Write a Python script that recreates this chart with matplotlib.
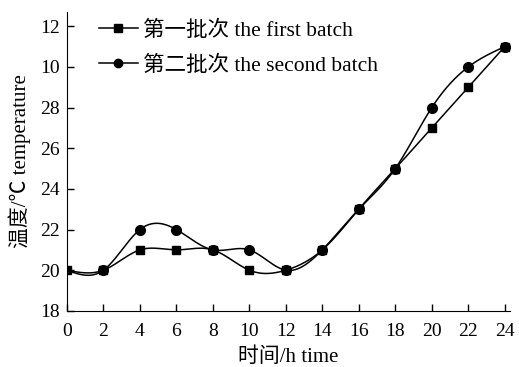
import numpy as np
import matplotlib
matplotlib.use("Agg")
import matplotlib.pyplot as plt

plt.rcParams['font.family'] = ['Liberation Serif', 'Noto Sans CJK SC']

hours = [0, 2, 4, 6, 8, 10, 12, 14, 16, 18, 20, 22, 24]
batch1 = [20, 20, 21, 21, 21, 20, 20, 21, 23, 25, 27, 29, 31]
batch2 = [20, 20, 22, 22, 21, 21, 20, 21, 23, 25, 28, 30, 31]
y_ticks = [18, 20, 22, 24, 26, 28, 30, 32]
y_tick_labels = ["18", "20", "22", "24", "26", "28", "10", "12"]


def smooth(x, y, n=400):
    # natural cubic spline through the points
    x = np.asarray(x, float)
    y = np.asarray(y, float)
    k = len(x)
    h = np.diff(x)
    A = np.zeros((k, k))
    b = np.zeros(k)
    A[0, 0] = A[-1, -1] = 1
    for i in range(1, k - 1):
        A[i, i - 1] = h[i - 1]
        A[i, i] = 2 * (h[i - 1] + h[i])
        A[i, i + 1] = h[i]
        b[i] = 3 * ((y[i + 1] - y[i]) / h[i] - (y[i] - y[i - 1]) / h[i - 1])
    c = np.linalg.solve(A, b)
    xs = np.linspace(x[0], x[-1], n)
    idx = np.clip(np.searchsorted(x, xs) - 1, 0, k - 2)
    dx = xs - x[idx]
    hi = h[idx]
    bb = (y[idx + 1] - y[idx]) / hi - hi * (2 * c[idx] + c[idx + 1]) / 3
    dd = (c[idx + 1] - c[idx]) / (3 * hi)
    ys = y[idx] + bb * dx + c[idx] * dx ** 2 + dd * dx ** 3
    return xs, ys


fig = plt.figure(figsize=(5.19, 3.67), dpi=100)
ax = fig.add_axes([0.129, 0.153, 0.854, 0.814])

xs, ys = smooth(hours, batch1)
ax.plot(xs, ys, color="black", lw=1.1)
xs, ys = smooth(hours, batch2)
ax.plot(xs, ys, color="black", lw=1.1)
ax.plot(hours, batch1, "s", color="black", ms=6)
ax.plot(hours[1:], batch2[1:], "o", color="black", ms=7)

# legend handles
ax.plot([], [], "-s", color="black", ms=6, lw=1.1, label="第一批次 the first batch")
ax.plot([], [], "-o", color="black", ms=6, lw=1.1, label="第二批次 the second batch")
ax.legend(loc="upper left", frameon=False, fontsize=15.5, handlelength=1.8,
          handletextpad=0.25, borderaxespad=0.0, bbox_to_anchor=(0.053, 1.0),
          labelspacing=0.68)

ax.set_xlim(0, 24.3)
ax.set_ylim(18, 32.7)
ax.set_xticks(range(0, 25, 2))
ax.set_yticks(y_ticks)
ax.set_yticklabels(y_tick_labels)
ax.tick_params(direction="in", labelsize=14, length=5, width=1, pad=5)
ax.tick_params(axis="x", pad=9)
ax.spines["top"].set_visible(False)
ax.spines["right"].set_visible(False)
ax.set_xlabel("时间/h time", fontsize=15, labelpad=5)
ax.set_ylabel("温度/℃ temperature", fontsize=15, labelpad=7)

fig.savefig("out.png", dpi=100)
